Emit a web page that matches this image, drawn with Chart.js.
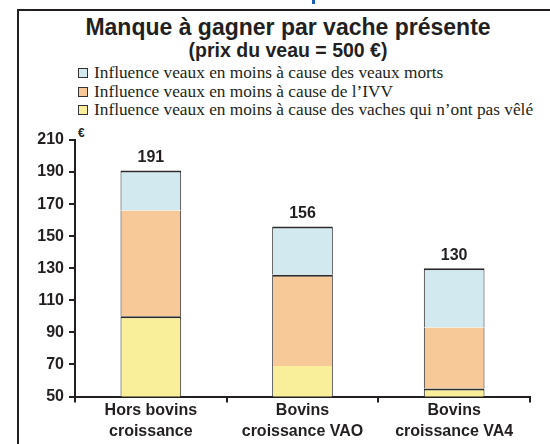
<!DOCTYPE html>
<html>
<head>
<meta charset="utf-8">
<script src="https://cdn.jsdelivr.net/npm/chart.js@4/dist/chart.umd.min.js"></script>
<style>
  body { margin: 0; background: #fff; }
  #wrap { position: relative; width: 550px; height: 444px; overflow: hidden; }
  #frame { position: absolute; left: 17px; top: 9px; width: 600px; height: 500px;
           border-left: 2px solid #231f20; border-top: 2px solid #231f20; }
  #cut { position: absolute; left: 312px; top: 0; width: 3px; height: 4px; background: #1f5fb0; }
  #title { position: absolute; left: 18px; width: 540px; top: 15px; text-align: center;
           font-family: "Liberation Sans", Arial, sans-serif; font-weight: bold; color: #231f20; }
  #title .l1 { font-size: 23px; line-height: 24px; }
  #title .l2 { font-size: 19.5px; line-height: 22px; }
  #legend { position: absolute; left: 78px; top: 64px; font-family: "Liberation Serif", "Times New Roman", serif;
            font-size: 17.3px; color: #231f20; }
  #legend div { height: 18.5px; line-height: 18.5px; white-space: nowrap; }
  #legend span.box { display: inline-block; width: 8px; height: 8px; border: 1.5px solid #333;
                     margin-right: 6px; vertical-align: 0px; }
  #euro { position: absolute; left: 78px; top: 126px; font-family: "Liberation Sans", Arial, sans-serif;
          font-weight: bold; font-size: 12px; color: #231f20; }
  canvas { position: absolute; left: 0; top: 0; }
</style>
</head>
<body>
<div id="wrap">
  <div id="frame"></div>
  <div id="cut"></div>
  <div id="title"><div class="l1">Manque à gagner par vache présente</div><div class="l2">(prix du veau = 500 €)</div></div>
  <div id="legend"></div>
  <div id="euro">€</div>
  <canvas id="chart" width="550" height="444"></canvas>
</div>
<script>
// data
const categories = [["Hors bovins", "croissance"], ["Bovins", "croissance VAO"], ["Bovins", "croissance VA4"]];
const vachesNonVelees = [100, 69, 55];
const ivv = [66, 57, 38];
const veauxMorts = [25, 30, 37];
const totals = [191, 156, 130];

const seriesNames = [
  "Influence veaux en moins à cause des vaches qui n’ont pas vêlé",
  "Influence veaux en moins à cause de l’IVV",
  "Influence veaux en moins à cause des veaux morts"
];
const colors = ["#f9ef9b", "#f7c898", "#d3e9f0"];
// which segment tops have a dark line in the original
const topLine = [[true, false, true], [false, true, false], [true, true, true]];

const textColor = "#231f20";

// legend, top series first like the original
const legendEl = document.getElementById("legend");
[2, 1, 0].forEach(i => {
  const row = document.createElement("div");
  row.innerHTML = '<span class="box" style="background:' + colors[i] + '"></span>' + seriesNames[i];
  legendEl.appendChild(row);
});

const totalsPlugin = {
  id: "totals",
  afterDatasetsDraw(chart) {
    const ctx = chart.ctx;
    ctx.save();
    ctx.font = "bold 16px 'Liberation Sans', Arial, sans-serif";
    ctx.fillStyle = textColor;
    ctx.textAlign = "center";
    ctx.textBaseline = "middle";
    totals.forEach((t, i) => {
      const x = chart.scales.x.getPixelForValue(i);
      const y = chart.scales.y.getPixelForValue(t);
      ctx.fillText(String(t), x, y - 13);
    });
    ctx.restore();
  }
};

const seriesData = [vachesNonVelees, ivv, veauxMorts];

new Chart(document.getElementById("chart"), {
  type: "bar",
  data: {
    labels: categories,
    datasets: seriesData.map((d, s) => ({
      label: seriesNames[s],
      data: d,
      backgroundColor: colors[s],
      borderColor: "#2b2b2b",
      borderSkipped: false,
      borderWidth: ctx => ({ top: topLine[s][ctx.dataIndex] ? 2 : 0, left: 1, right: 1, bottom: 0 }),
      barPercentage: 0.4,
      categoryPercentage: 1.0
    }))
  },
  options: {
    responsive: false,
    animation: false,
    layout: { padding: { top: 140, right: 20, left: 0, bottom: 0 } },
    plugins: {
      legend: { display: false },
      tooltip: { enabled: false }
    },
    scales: {
      x: {
        stacked: true,
        afterFit: scale => { scale.height = 47.5; },
        border: { display: true, color: textColor, width: 2 },
        grid: { drawOnChartArea: false, drawTicks: true, tickLength: 6, color: textColor, lineWidth: 2, offset: true },
        ticks: {
          color: textColor,
          padding: -2,
          maxRotation: 0,
          font: { family: "'Liberation Sans', Arial, sans-serif", size: 16, weight: "bold", lineHeight: 1.3 }
        }
      },
      y: {
        stacked: true,
        min: 50,
        max: 210,
        afterFit: scale => { scale.width = 75; },
        border: { display: true, color: textColor, width: 2 },
        grid: { drawOnChartArea: false, drawTicks: true, tickLength: 6, color: textColor, lineWidth: 2 },
        ticks: {
          stepSize: 20,
          color: textColor,
          padding: 5,
          font: { family: "'Liberation Sans', Arial, sans-serif", size: 16, weight: "bold" }
        }
      }
    }
  },
  plugins: [totalsPlugin]
});
</script>
</body>
</html>
